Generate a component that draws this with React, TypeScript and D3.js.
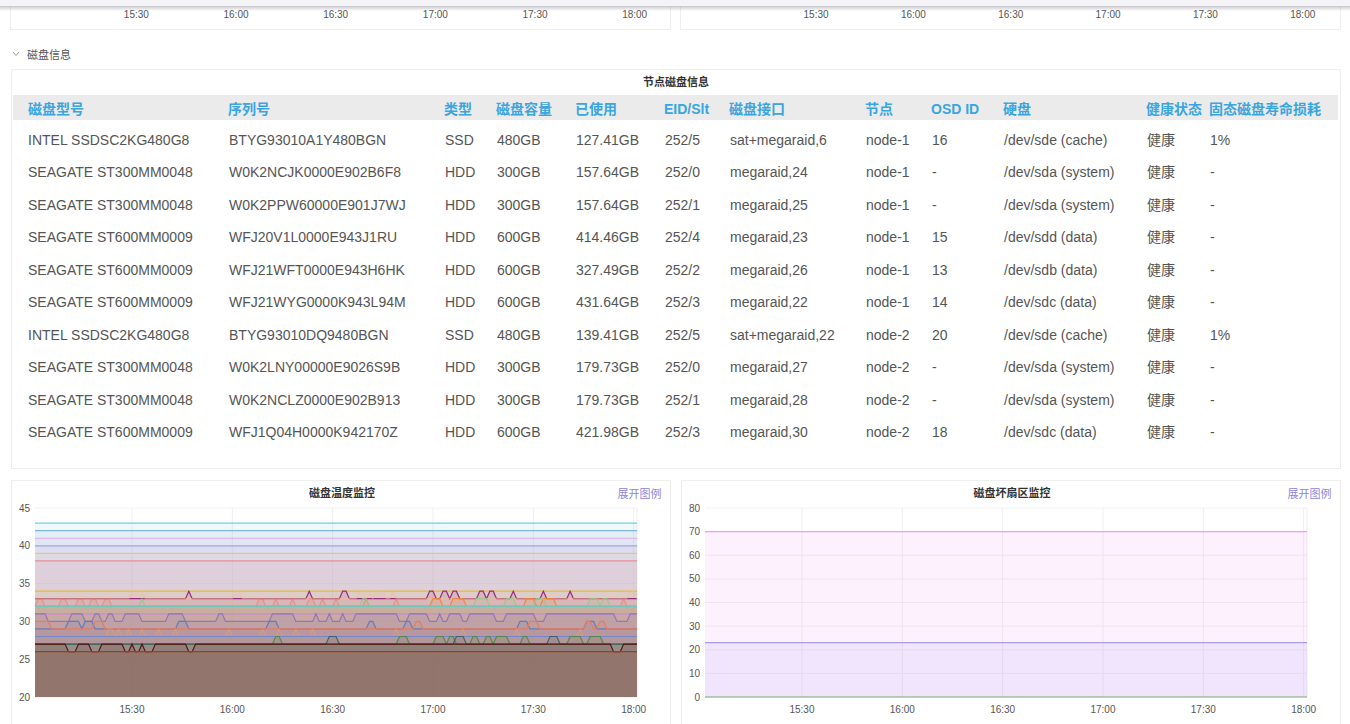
import * as d3 from "d3";

// ---- shared time axis (one sample a minute, 15:01 .. 18:01) ----
const timeTickLabels = ["15:30", "16:00", "16:30", "17:00", "17:30", "18:00"];
const sampleMinutes = d3.range(0, 181);

// ---- disk table ----
const tableColumns = ["磁盘型号", "序列号", "类型", "磁盘容量", "已使用", "EID/Slt", "磁盘接口", "节点", "OSD ID", "硬盘", "健康状态", "固态磁盘寿命损耗"];
const diskModels = ["INTEL SSDSC2KG480G8", "SEAGATE ST300MM0048", "SEAGATE ST300MM0048", "SEAGATE ST600MM0009", "SEAGATE ST600MM0009", "SEAGATE ST600MM0009", "INTEL SSDSC2KG480G8", "SEAGATE ST300MM0048", "SEAGATE ST300MM0048", "SEAGATE ST600MM0009"];
const diskSerials = ["BTYG93010A1Y480BGN", "W0K2NCJK0000E902B6F8", "W0K2PPW60000E901J7WJ", "WFJ20V1L0000E943J1RU", "WFJ21WFT0000E943H6HK", "WFJ21WYG0000K943L94M", "BTYG93010DQ9480BGN", "W0K2LNY00000E9026S9B", "W0K2NCLZ0000E902B913", "WFJ1Q04H0000K942170Z"];
const diskTypes = ["SSD", "HDD", "HDD", "HDD", "HDD", "HDD", "SSD", "HDD", "HDD", "HDD"];
const diskCapacity = ["480GB", "300GB", "300GB", "600GB", "600GB", "600GB", "480GB", "300GB", "300GB", "600GB"];
const diskUsed = ["127.41GB", "157.64GB", "157.64GB", "414.46GB", "327.49GB", "431.64GB", "139.41GB", "179.73GB", "179.73GB", "421.98GB"];
const diskSlots = ["252/5", "252/0", "252/1", "252/4", "252/2", "252/3", "252/5", "252/0", "252/1", "252/3"];
const diskInterfaces = ["sat+megaraid,6", "megaraid,24", "megaraid,25", "megaraid,23", "megaraid,26", "megaraid,22", "sat+megaraid,22", "megaraid,27", "megaraid,28", "megaraid,30"];
const diskNodes = ["node-1", "node-1", "node-1", "node-1", "node-1", "node-1", "node-2", "node-2", "node-2", "node-2"];
const diskOsd = ["16", "-", "-", "15", "13", "14", "20", "-", "-", "18"];
const diskDevices = ["/dev/sde (cache)", "/dev/sda (system)", "/dev/sda (system)", "/dev/sdd (data)", "/dev/sdb (data)", "/dev/sdc (data)", "/dev/sde (cache)", "/dev/sda (system)", "/dev/sda (system)", "/dev/sdc (data)"];
const diskHealth = ["健康", "健康", "健康", "健康", "健康", "健康", "健康", "健康", "健康", "健康"];
const diskWear = ["1%", "-", "-", "-", "-", "-", "1%", "-", "-", "-"];

// ---- temperature: base level, the level it steps to, minute spans spent there ----
const tempTicks = [20, 25, 30, 35, 40, 45];
const tempBase = [43, 42, 41, 40, 39, 38, 34, 33, 33, 32, 32, 32, 32, 31, 31, 29, 29, 28, 28, 27, 27, 27, 26];
const tempStep = [43, 42, 41, 40, 39, 38, 34, 34, 34, 33, 33, 33, 32, 31, 30, 30, 30, 29, 28, 28, 28, 26, 26];
const tempSpans: [number, number][][] = [
  [], [], [], [], [], [], [],
  [[46, 46], [82, 82], [92, 93], [118, 119], [122, 123], [125, 126], [133, 134], [136, 137], [143, 143], [152, 152], [160, 160]],
  [[29, 32], [60, 61], [97, 100], [102, 104], [107, 107], [178, 179]],
  [[1, 2], [8, 9], [13, 14], [17, 18], [21, 22], [67, 68], [72, 72], [77, 77], [82, 83], [86, 86], [90, 90], [99, 99], [108, 108], [176, 176]],
  [[119, 121], [125, 128], [147, 149], [152, 155]],
  [[32, 32], [98, 99], [132, 135], [141, 143], [150, 152], [166, 168], [170, 171]],
  [],
  [],
  [[4, 10], [15, 17], [20, 21], [24, 26], [32, 39], [45, 54], [57, 70], [78, 83], [85, 87], [89, 91], [93, 95], [109, 111], [118, 120], [122, 123], [128, 129], [138, 140], [150, 152], [174, 177]],
  [[10, 13], [15, 17], [43, 45], [70, 72], [100, 101], [111, 112], [145, 147], [165, 167]],
  [[0, 4], [18, 20], [114, 115], [148, 150], [165, 166], [169, 170]],
  [[22, 23], [25, 25], [28, 28], [32, 32], [37, 37], [42, 42], [58, 58], [68, 68], [73, 73], [78, 78], [83, 83], [108, 108], [128, 128], [144, 144], [163, 163]],
  [],
  [[72, 73], [109, 111], [120, 122], [124, 125], [131, 132], [135, 136], [138, 141], [146, 147], [160, 163], [166, 169]],
  [[88, 90], [126, 128], [154, 156]],
  [[10, 12], [17, 19], [27, 28], [30, 31], [33, 35], [46, 47], [173, 175]],
  [],
];
const tempColors = ["#6ed0e0", "#82b5d8", "#e5a8e2", "#aea2e0", "#f9ba8f", "#ea8c9a", "#eab839", "#962d82", "#f2c08a", "#e8705f", "#ef843c", "#9ac48a", "#74c4bc", "#d683ce", "#806eb7", "#5a79bb", "#ea7b5c", "#f0a070", "#7388c8", "#508642", "#2f575e", "#58140c", "#99440a"];
const tempLineOpacity = [1, 1, 1, 1, 1, 1, 1, 1, 0.5, 0.45, 0.9, 0.8, 1, 1, 0.8, 0.9, 1, 0.45, 1, 0.9, 0.8, 1, 1];

// ---- bad sectors ----
const sectorTicks = [0, 10, 20, 30, 40, 50, 60, 70, 80];
const sectorBase = [70, 23, 0];
const sectorColors = ["#f09cf5", "#a49ef2", "#7eb26d"];

const day = (h: number, m: number) => new Date(2024, 0, 1, h, m);
const times = sampleMinutes.map((m) => day(15, 1 + m));
const tickTimes = timeTickLabels.map((s) => {
  const [h, m] = s.split(":").map(Number);
  return day(h, m);
});

const expand = (base: number, step: number, spans: [number, number][]) => {
  const v = sampleMinutes.map(() => base);
  spans.forEach(([a, b]) => {
    for (let i = a; i <= b; i++) v[i] = step;
  });
  return v;
};

const LATIN = '"Liberation Sans", Arial, "Noto Sans CJK SC", sans-serif';
const CJK = '"Noto Sans CJK SC", "Liberation Sans", sans-serif';

type ChartProps = {
  panel: [number, number];
  plot: { left: number; right: number; top: number; bottom: number };
  yDomain: [number, number];
  yTicks: number[];
  series: number[][];
  colors: string[];
  lineOpacity: number[];
  fillOpacity: number;
  title: string;
};

const TimeChart = ({ panel, plot, yDomain, yTicks, series, colors, lineOpacity, fillOpacity, title }: ChartProps) => {
  const x = d3.scaleTime().domain([times[0], times[times.length - 1]]).range([plot.left, plot.right]);
  const y = d3.scaleLinear().domain(yDomain).range([plot.bottom, plot.top]);
  const area = d3
    .area<number>()
    .x((_, i) => x(times[i]))
    .y0(plot.bottom)
    .y1((d) => y(d));
  const line = d3
    .line<number>()
    .x((_, i) => x(times[i]))
    .y((d) => y(d));

  return (
    <g>
      <rect x={panel[0]} y={480.5} width={panel[1] - panel[0]} height={260} fill="#fff" stroke="#eeeeee" />
      <text x={(panel[0] + panel[1]) / 2 + 1} y={492} fontSize={11} fontWeight={700} fill="#333" textAnchor="middle" dominantBaseline="central" fontFamily={CJK}>
        {title}
      </text>
      <text x={panel[1] - 9} y={493} fontSize={11} fill="#8d86d8" textAnchor="end" dominantBaseline="central" fontFamily={CJK}>
        展开图例
      </text>
      {yTicks.map((t) => (
        <g key={t}>
          <line x1={plot.left} x2={plot.right} y1={y(t)} y2={y(t)} stroke="#f0f0f0" />
          <text x={plot.left - 5} y={y(t)} fontSize={10} fill="#555" textAnchor="end" dominantBaseline="central" fontFamily={LATIN}>
            {t}
          </text>
        </g>
      ))}
      {tickTimes.map((t, i) => (
        <g key={i}>
          <line x1={x(t)} x2={x(t)} y1={plot.top} y2={plot.bottom} stroke="#eeeeee" />
          <text x={x(t)} y={plot.bottom + 12} fontSize={10} fill="#555" textAnchor="middle" dominantBaseline="central" fontFamily={LATIN}>
            {timeTickLabels[i]}
          </text>
        </g>
      ))}
      <line x1={plot.right} x2={plot.right} y1={plot.top} y2={plot.bottom} stroke="#eeeeee" />
      {series.map((s, i) => (
        <path key={"a" + i} d={area(s) ?? ""} fill={colors[i]} fillOpacity={fillOpacity} />
      ))}
      {series.map((s, i) => (
        <path key={"l" + i} d={line(s) ?? ""} fill="none" stroke={colors[i]} strokeOpacity={lineOpacity[i]} strokeWidth={1.2} />
      ))}
    </g>
  );
};

const TopStrip = ({ left, right, from, to }: { left: number; right: number; from: number; to: number }) => {
  const x = d3.scaleTime().domain([times[0], times[times.length - 1]]).range([from, to]);
  return (
    <g>
      <rect x={left} y={-10} width={right - left} height={39.5} fill="#fff" stroke="#eeeeee" />
      {tickTimes.map((t, i) => (
        <text key={i} x={x(t)} y={14} fontSize={10} fill="#555" textAnchor="middle" dominantBaseline="central" fontFamily={LATIN}>
          {timeTickLabels[i]}
        </text>
      ))}
    </g>
  );
};

const colX = [28, 228, 444, 496, 575, 664, 729, 865, 931, 1003, 1146, 1209];
const rowY0 = 139.5;
const rowStep = 32.5;

const App = () => {
  const tempSeries = tempBase.map((b, i) => expand(b, tempStep[i], tempSpans[i]));
  const sectorSeries = sectorBase.map((b) => expand(b, b, []));
  const rows = diskModels.map((m, i) => [m, diskSerials[i], diskTypes[i], diskCapacity[i], diskUsed[i], diskSlots[i], diskInterfaces[i], diskNodes[i], diskOsd[i], diskDevices[i], diskHealth[i], diskWear[i]]);

  return (
    <svg width={1350} height={724} style={{ position: "absolute", left: 0, top: 0, background: "#fff" }}>
      <defs>
        <linearGradient id="shade" x1="0" x2="0" y1="0" y2="1">
          <stop offset="0" stopColor="#9a9aa6" stopOpacity={0.55} />
          <stop offset="1" stopColor="#9a9aa6" stopOpacity={0} />
        </linearGradient>
      </defs>

      <TopStrip left={10.5} right={670.5} from={40} to={638} />
      <TopStrip left={680.5} right={1340.5} from={722} to={1306} />
      <rect x={0} y={0} width={1350} height={6} fill="#f4f4f6" />
      <rect x={0} y={6} width={1350} height={5} fill="url(#shade)" />

      {/* section header */}
      <path d="M13,52 L16,55.5 L19,52" fill="none" stroke="#999" strokeWidth={1} />
      <text x={27} y={54} fontSize={11} fill="#555" dominantBaseline="central" fontFamily={CJK}>
        磁盘信息
      </text>

      {/* disk table */}
      <rect x={11.5} y={69.5} width={1329} height={399} fill="#fff" stroke="#eeeeee" />
      <text x={676} y={81} fontSize={11} fontWeight={700} fill="#333" textAnchor="middle" dominantBaseline="central" fontFamily={CJK}>
        节点磁盘信息
      </text>
      <rect x={13} y={95} width={1325} height={25} fill="#ebebeb" />
      {tableColumns.map((c, i) => (
        <text key={c} x={colX[i]} y={108.5} fontSize={14} fontWeight={700} fill="#3aa5de" dominantBaseline="central" fontFamily={LATIN}>
          {c}
        </text>
      ))}
      {rows.map((r, ri) => (
        <g key={ri}>
          {r.map((v, ci) => (
            <text key={ci} x={colX[ci] + (ci === 0 ? 0 : 1)} y={rowY0 + ri * rowStep} fontSize={14} fill="#555" dominantBaseline="central" fontFamily={LATIN}>
              {v}
            </text>
          ))}
        </g>
      ))}

      <TimeChart
        panel={[11.5, 670.5]}
        plot={{ left: 35, right: 637, top: 508, bottom: 697 }}
        yDomain={[20, 45]}
        yTicks={tempTicks}
        series={tempSeries}
        colors={tempColors}
        lineOpacity={tempLineOpacity}
        fillOpacity={0.12}
        title="磁盘温度监控"
      />
      <TimeChart
        panel={[681.5, 1340.5]}
        plot={{ left: 705, right: 1307, top: 508, bottom: 697 }}
        yDomain={[0, 80]}
        yTicks={sectorTicks}
        series={sectorSeries}
        colors={sectorColors}
        lineOpacity={[1, 1, 1]}
        fillOpacity={0.14}
        title="磁盘坏扇区监控"
      />
    </svg>
  );
};

export default App;
